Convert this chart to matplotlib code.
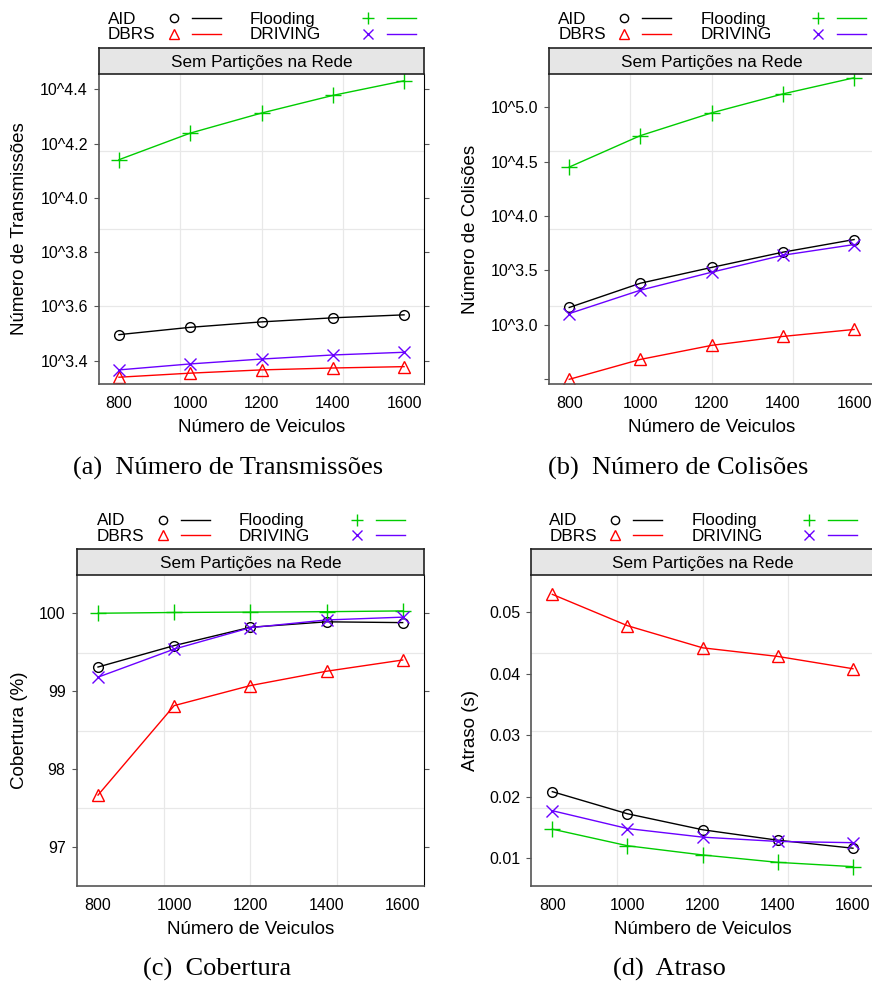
import matplotlib
matplotlib.use("Agg")
import matplotlib.pyplot as plt
from matplotlib.lines import Line2D
import numpy as np

plt.rcParams['font.family'] = ['Liberation Sans', 'DejaVu Sans']

W, H = 872, 988

veiculos = [800, 1000, 1200, 1400, 1600]
series = ['AID', 'DBRS', 'Flooding', 'DRIVING']

# log10 of the values (the original plot uses a log10 scale)
trans_aid = [3.496, 3.523, 3.543, 3.558, 3.569]
trans_dbrs = [3.339, 3.354, 3.366, 3.373, 3.378]
trans_flooding = [4.141, 4.239, 4.313, 4.378, 4.432]
trans_driving = [3.366, 3.388, 3.406, 3.421, 3.431]

col_aid = [3.160, 3.383, 3.528, 3.668, 3.784]
col_dbrs = [2.500, 2.683, 2.812, 2.894, 2.958]
col_flooding = [4.450, 4.739, 4.948, 5.122, 5.270]
col_driving = [3.104, 3.319, 3.484, 3.640, 3.738]

cob_aid = [99.31, 99.585, 99.82, 99.89, 99.88]
cob_dbrs = [97.667, 98.815, 99.072, 99.256, 99.40]
cob_flooding = [100.0, 100.01, 100.015, 100.02, 100.03]
cob_driving = [99.18, 99.54, 99.815, 99.914, 99.95]

atr_aid = [0.0208, 0.0172, 0.0146, 0.0129, 0.0116]
atr_dbrs = [0.0529, 0.0478, 0.0442, 0.0428, 0.0408]
atr_flooding = [0.0147, 0.0120, 0.0105, 0.0093, 0.0086]
atr_driving = [0.0177, 0.0148, 0.0134, 0.0127, 0.0125]

colors = {'AID': 'black', 'DBRS': '#ff0000', 'Flooding': '#00cc00', 'DRIVING': '#6a00ff'}
markers = {'AID': 'o', 'DBRS': '^', 'Flooding': '+', 'DRIVING': 'x'}
msizes = {'AID': 7, 'DBRS': 9, 'Flooding': 11, 'DRIVING': 8}

fig = plt.figure(figsize=(W / 100, H / 100), dpi=100)


def fx(px):
    return px / W


def fy(py):
    return 1 - py / H


def panel(x0, y0, x1, y1, data, ylim, yticks, ylabels, ylab, ylab_x, xlab, caption, cap_y):
    ax = fig.add_axes([fx(x0), fy(y1), fx(x1) - fx(x0), (y1 - y0) / H])
    for f in (0.25, 0.5, 0.75):
        ax.plot([f, f], [0, 1], color='#e8e8e8', lw=0.9, transform=ax.transAxes, zorder=0)
        ax.plot([0, 1], [f, f], color='#e8e8e8', lw=0.9, transform=ax.transAxes, zorder=0)
    for name in series:
        ax.plot(veiculos, data[name], color=colors[name], lw=1.0,
                marker=markers[name], ms=msizes[name], mfc='none',
                mec=colors[name], mew=1.0)
    ax.set_xlim(744, 1656)
    ax.set_ylim(*ylim)
    ax.set_xticks(veiculos)
    ax.set_yticks(yticks)
    ax.set_yticklabels(ylabels)
    ax.tick_params(axis='x', length=0, pad=8.5, labelsize=11.5)
    ax.tick_params(axis='y', length=3.5, width=0.8, pad=4.5, labelsize=11.5,
                   left=True, right=True, color='#555555')
    for s in ('left', 'bottom'):
        ax.spines[s].set_color('#555555')
        ax.spines[s].set_linewidth(1.2)
    ax.spines['right'].set_color('black')
    ax.spines['top'].set_visible(False)

    # strip
    st = fig.add_axes([fx(x0), fy(y0), fx(x1) - fx(x0), 26 / H])
    st.set_facecolor('#e6e6e6')
    st.set_xticks([])
    st.set_yticks([])
    for s in st.spines.values():
        s.set_color('#222222')
        s.set_linewidth(1.2)
    st.text(0.5, 0.45, 'Sem Partições na Rede', ha='center', va='center',
            fontsize=12.3, transform=st.transAxes)

    cx = (x0 + x1) / 2
    cy = (y0 + y1) / 2
    fig.text(fx(cx), fy(y1 + 48), xlab, ha='center', va='baseline', fontsize=13.5)
    fig.text(fx(ylab_x), fy(cy), ylab, ha='center', va='center', rotation=90, fontsize=13.5)
    fig.text(fx(cx - 33 + 0), fy(cap_y), caption, ha='center', va='baseline',
             fontsize=19, family='Liberation Serif')

    # legend above strip
    top = y0 - 26
    rows = [(top - 24, 'AID', 'Flooding'), (top - 8.7, 'DBRS', 'DRIVING')]
    for ry, n1, n2 in rows:
        for name, tx, mx, lx in ((n1, -153.5, -87.5, -69.5), (n2, -11.5, 106.5, 125.5)):
            fig.text(fx(cx + tx), fy(ry), name, ha='left', va='baseline', fontsize=12.3)
            my = ry - 5.5
            fig.add_artist(Line2D([fx(cx + mx)], [fy(my)], marker=markers[name],
                                  ms=msizes[name] * 0.85, mfc='none', mec=colors[name],
                                  mew=1.0, ls='none', transform=fig.transFigure))
            fig.add_artist(Line2D([fx(cx + lx), fx(cx + lx + 29)], [fy(my), fy(my)],
                                  color=colors[name], lw=1.0, transform=fig.transFigure))
    return ax


trans = {'AID': trans_aid, 'DBRS': trans_dbrs, 'Flooding': trans_flooding, 'DRIVING': trans_driving}
col = {'AID': col_aid, 'DBRS': col_dbrs, 'Flooding': col_flooding, 'DRIVING': col_driving}
cob = {'AID': cob_aid, 'DBRS': cob_dbrs, 'Flooding': cob_flooding, 'DRIVING': cob_driving}
atr = {'AID': atr_aid, 'DBRS': atr_dbrs, 'Flooding': atr_flooding, 'DRIVING': atr_driving}

t_ticks = [3.4, 3.6, 3.8, 4.0, 4.2, 4.4]
c_ticks = [2.5, 3.0, 3.5, 4.0, 4.5, 5.0]

panel(99, 74, 424, 384, trans, (3.314, 4.457), t_ticks,
      ['10^%.1f' % t for t in t_ticks], 'Número de Transmissões', 20, 'Número de Veiculos',
      '(a)  Número de Transmissões', 475)
panel(549.3, 74, 874, 384, col, (2.457, 5.305), c_ticks,
      [''] + ['10^%.1f' % t for t in c_ticks[1:]], 'Número de Colisões', 470, 'Número de Veiculos',
      '(b)  Número de Colisões', 475)
panel(76.7, 575.3, 424, 885.7, cob, (96.504, 100.487), [97, 98, 99, 100],
      ['97', '98', '99', '100'], 'Cobertura (%)', 20, 'Número de Veiculos',
      '(c)  Cobertura', 976)
panel(531.3, 575.3, 874, 885.7, atr, (0.0055, 0.056), [0.01, 0.02, 0.03, 0.04, 0.05],
      ['0.01', '0.02', '0.03', '0.04', '0.05'], 'Atraso (s)', 470, 'Númbero de Veiculos',
      '(d)  Atraso', 976)

fig.savefig('out.png', dpi=100)
